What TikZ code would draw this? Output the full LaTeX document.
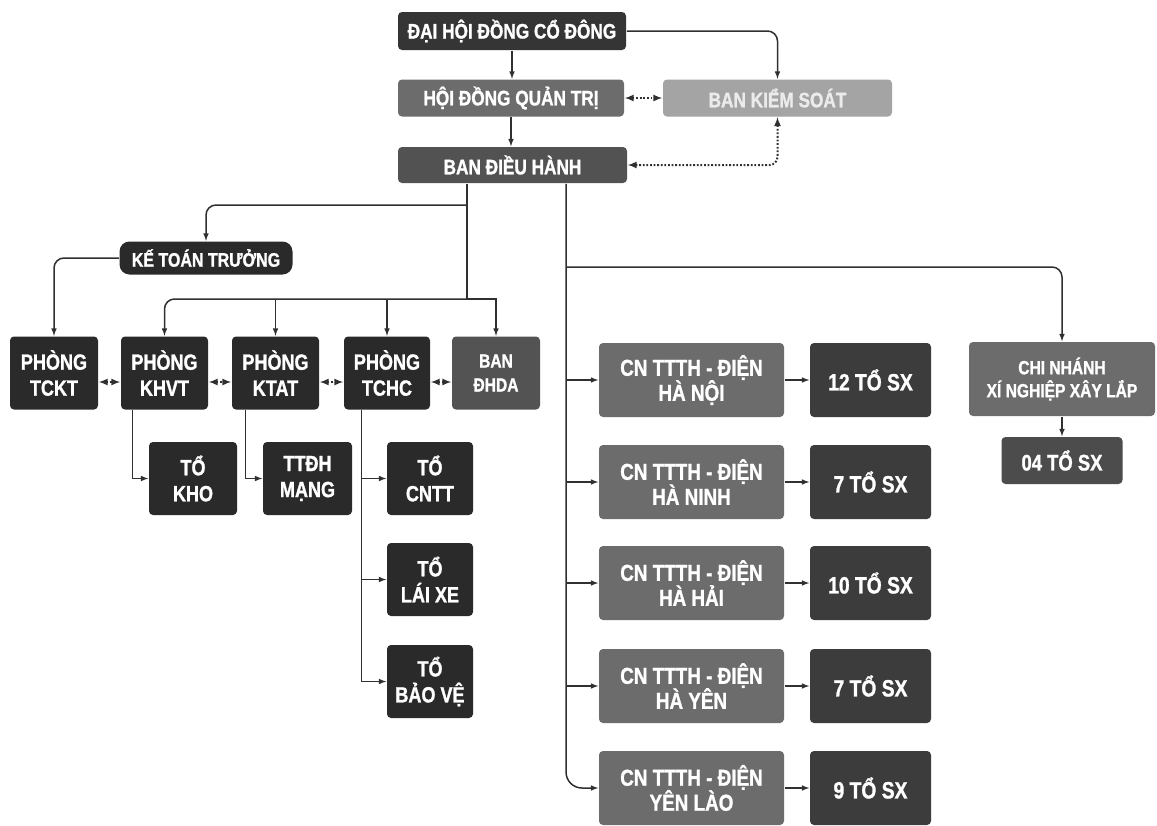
\documentclass[tikz,border=0pt]{standalone}
\usepackage{fontspec}
\setmainfont{Liberation Sans}[FakeStretch=0.82, BoldFeatures={FakeBold=1.2}]
\usepackage{xcolor}
\usepackage{tikz}

\definecolor{inkblack}{HTML}{2A2A2A}
\definecolor{topgray}{HTML}{353535}
\definecolor{midgray}{HTML}{6C6C6C}
\definecolor{lightgray}{HTML}{A4A4A4}
\definecolor{execgray}{HTML}{525252}
\definecolor{teamgray}{HTML}{3C3C3C}
\definecolor{linegray}{HTML}{303030}

\begin{document}
\begin{tikzpicture}[x=1pt, y=-1pt, line width=1.5pt, draw=linegray,
    orgbox/.style={rectangle, rounded corners=4pt, text=white, align=center, inner sep=0pt},
    headbox/.style={orgbox, minimum height=37pt, font=\bfseries\fontsize{21}{24}\selectfont},
    deptbox/.style={orgbox, fill=inkblack, minimum width=87pt, minimum height=73pt, font=\bfseries\fontsize{22}{26}\selectfont},
    cnbox/.style={orgbox, fill=midgray, minimum width=185pt, minimum height=74pt, font=\bfseries\fontsize{23}{25}\selectfont},
    sxbox/.style={orgbox, fill=teamgray, minimum width=121pt, minimum height=74pt, font=\bfseries\fontsize{23.5}{26}\selectfont},
    dotlink/.style={latex-latex, dash pattern=on 1.8pt off 1.8pt, line width=2pt}]
        \useasboundingbox (0,0) rectangle (1157,825);
        \fill[white] (0,0) rectangle (1157,825);

        \node (Dhdcd) [headbox, fill=topgray, minimum width=228pt, minimum height=38pt] at (512,31) {ĐẠI HỘI ĐỒNG CỔ ĐÔNG};
        \node (Hdqt) [headbox, fill=midgray, minimum width=226pt] at (511,98) {HỘI ĐỒNG QUẢN TRỊ};
        \node (Bks) [headbox, fill=lightgray, text=white!92!black, minimum width=229pt] at (777.5,98) {BAN KIỂM SOÁT};
        \node (Bdh) [headbox, fill=execgray, minimum width=229pt, minimum height=36pt] at (512.5,165) {BAN ĐIỀU HÀNH};
        \node (KeToan) [orgbox, fill=inkblack, rounded corners=10pt, minimum width=173pt, minimum height=33pt, font=\bfseries\fontsize{19.5}{22}\selectfont] at (206,258) {KẾ TOÁN TRƯỞNG};

        \node (Tckt) [deptbox, minimum width=88pt] at (54,373) {PHÒNG\\TCKT};
        \node (Khvt) [deptbox] at (164.5,373) {PHÒNG\\KHVT};
        \node (Ktat) [deptbox] at (275.5,373) {PHÒNG\\KTAT};
        \node (Tchc) [deptbox, minimum width=86pt] at (387,373) {PHÒNG\\TCHC};
        \node (Dhda) [deptbox, fill=teamgray!88!white, minimum width=88pt, font=\bfseries\fontsize{19}{24}\selectfont] at (496,373) {BAN\\ĐHDA};

        \node (ToKho) [deptbox, minimum width=88pt] at (193,478.5) {TỔ\\KHO};
        \node (TtdhMang) [deptbox, minimum width=89pt] at (307.5,478.5) {TTĐH\\MẠNG};
        \node (ToCntt) [deptbox, minimum width=86pt] at (430,478.5) {TỔ\\CNTT};
        \node (ToLaiXe) [deptbox, minimum width=86pt] at (430,579.5) {TỔ\\LÁI XE};
        \node (ToBaoVe) [deptbox, minimum width=86pt] at (430,681.5) {TỔ\\BẢO VỆ};

        \node (CnHaNoi) [cnbox] at (691.5,380) {CN TTTH - ĐIỆN\\HÀ NỘI};
        \node (CnHaNinh) [cnbox] at (691.5,482) {CN TTTH - ĐIỆN\\HÀ NINH};
        \node (CnHaHai) [cnbox] at (691.5,583) {CN TTTH - ĐIỆN\\HÀ HẢI};
        \node (CnHaYen) [cnbox] at (691.5,686) {CN TTTH - ĐIỆN\\HÀ YÊN};
        \node (CnYenLao) [cnbox] at (691.5,788) {CN TTTH - ĐIỆN\\YÊN LÀO};

        \node (SxHaNoi) [sxbox] at (870.5,380) {12 TỔ SX};
        \node (SxHaNinh) [sxbox] at (870.5,482) {7 TỔ SX};
        \node (SxHaHai) [sxbox] at (870.5,583) {10 TỔ SX};
        \node (SxHaYen) [sxbox] at (870.5,686) {7 TỔ SX};
        \node (SxYenLao) [sxbox] at (870.5,788) {9 TỔ SX};

        \node (ChiNhanh) [orgbox, fill=midgray, minimum width=186pt, minimum height=74pt, font=\bfseries\fontsize{19}{23}\selectfont] at (1062,379) {CHI NHÁNH\\XÍ NGHIỆP XÂY LẮP};
        \node (SxXayLap) [sxbox, fill=teamgray!92!white, minimum height=47pt, font=\bfseries\fontsize{22.5}{26}\selectfont] at (1062,460.5) {04 TỔ SX};

        \coordinate (BdhLeft) at ([xshift=-45.5pt]Bdh.south);
        \coordinate (BdhRight) at ([xshift=53.5pt]Bdh.south);
        \coordinate (KeToanFork) at (BdhLeft |- 0,205);
        \coordinate (PhongFork) at (BdhLeft |- 0,299);
        \coordinate (ChiNhanhFork) at (BdhRight |- 0,267);
        \coordinate (TchcLine) at ([xshift=18pt]Tchc.south west);

        \draw [-latex] (Dhdcd.south) -- (Dhdcd.south |- Hdqt.north);
        \draw [-latex, rounded corners=10pt] (Dhdcd.east) -| (Bks.north);
        \draw [dotlink] (Hdqt) -- (Bks);
        \draw [-latex] (Hdqt.south) -- (Hdqt.south |- Bdh.north);
        \draw [dotlink, rounded corners=8pt] (Bks.south) |- (Bdh.east);

        \draw (BdhLeft) -- (PhongFork);
        \draw [-latex, rounded corners=10pt] (KeToanFork) -| (KeToan.north);
        \draw [-latex, rounded corners=10pt] (KeToan.west) -| (Tckt.north);
        \draw [-latex, rounded corners=10pt] (PhongFork -| Dhda.north) -| (Khvt.north);
        \draw [-latex] (PhongFork) -- (PhongFork -| Dhda.north) -- (Dhda.north);
        \draw [-latex] (PhongFork -| Ktat.north) -- (Ktat.north);
        \draw [-latex] (PhongFork -| Tchc.north) -- (Tchc.north);

        \draw [dotlink] ([yshift=-9pt]Tckt.east) -- ([yshift=-9pt]Khvt.west);
        \draw [dotlink] ([yshift=-9pt]Khvt.east) -- ([yshift=-9pt]Ktat.west);
        \draw [dotlink] ([yshift=-9pt]Ktat.east) -- ([yshift=-9pt]Tchc.west);
        \draw [dotlink] ([yshift=-9pt]Tchc.east) -- ([yshift=-9pt]Dhda.west);

        \draw [-latex] ([xshift=12pt]Khvt.south west) |- (ToKho.west);
        \draw [-latex] ([xshift=14pt]Ktat.south west) |- (TtdhMang.west);
        \draw [-latex] (TchcLine) |- (ToBaoVe.west);
        \draw [-latex] (TchcLine |- ToCntt.west) -- (ToCntt.west);
        \draw [-latex] (TchcLine |- ToLaiXe.west) -- (ToLaiXe.west);

        \draw [-latex, rounded corners=16pt] (BdhRight) |- (CnYenLao.west);
        \draw [-latex] (BdhRight |- CnHaNoi.west) -- (CnHaNoi.west);
        \draw [-latex] (BdhRight |- CnHaNinh.west) -- (CnHaNinh.west);
        \draw [-latex] (BdhRight |- CnHaHai.west) -- (CnHaHai.west);
        \draw [-latex] (BdhRight |- CnHaYen.west) -- (CnHaYen.west);
        \draw [-latex, rounded corners=10pt] (ChiNhanhFork) -| (ChiNhanh.north);

        \draw [-latex] (CnHaNoi) -- (SxHaNoi);
        \draw [-latex] (CnHaNinh) -- (SxHaNinh);
        \draw [-latex] (CnHaHai) -- (SxHaHai);
        \draw [-latex] (CnHaYen) -- (SxHaYen);
        \draw [-latex] (CnYenLao) -- (SxYenLao);
        \draw [-latex] (ChiNhanh) -- (SxXayLap);
      \end{tikzpicture}
\end{document}
